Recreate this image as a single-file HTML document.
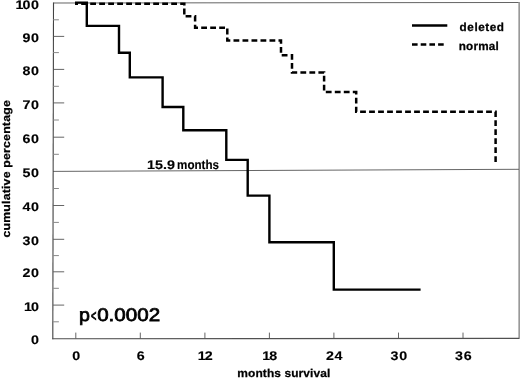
<!DOCTYPE html>
<html><head><meta charset="utf-8"><title>Survival</title>
<style>
html,body{margin:0;padding:0;background:#fff;}
body{width:520px;height:378px;overflow:hidden;}
svg{display:block;filter:grayscale(1) blur(0.35px);}
text{font-family:"Liberation Sans",Arial,Helvetica,sans-serif;font-weight:bold;font-size:12px;fill:#000;stroke:#000;stroke-width:0.25px;text-rendering:geometricPrecision;}
.num text{letter-spacing:0.6px;font-weight:bold;stroke-width:0.15px;font-size:12.5px;}
</style></head>
<body>
<svg width="520" height="378" viewBox="0 0 520 378">
<rect x="0" y="0" width="520" height="378" fill="#fff"/>
<line x1="53.4" y1="3.0" x2="519" y2="2.5" stroke="#484848" stroke-width="0.85"/>
<line x1="519.2" y1="2" x2="519.2" y2="339" stroke="#999" stroke-width="1.7"/>
<line x1="53" y1="171.4" x2="519" y2="169.3" stroke="#555" stroke-width="0.9"/>
<line x1="53.5" y1="2.5" x2="52.8" y2="339.3" stroke="#444" stroke-width="1.1"/>
<line x1="52.3" y1="338.8" x2="519" y2="338.4" stroke="#505050" stroke-width="1.1"/>
<g stroke="#555" stroke-width="0.9">
<line x1="53.1" y1="305.1" x2="64.2" y2="305.1"/>
<line x1="53.1" y1="271.8" x2="64.2" y2="271.8"/>
<line x1="53.1" y1="239.3" x2="64.2" y2="239.3"/>
<line x1="53.1" y1="205.5" x2="64.2" y2="205.5"/>
<line x1="53.1" y1="137.2" x2="64.2" y2="137.2"/>
<line x1="53.1" y1="102.9" x2="64.2" y2="102.9"/>
<line x1="53.1" y1="69.4" x2="64.2" y2="69.4"/>
<line x1="53.1" y1="36.4" x2="64.2" y2="36.4"/>
</g><g stroke="#888" stroke-width="1">
<line x1="53.1" y1="321.8" x2="58.9" y2="321.8"/>
<line x1="53.1" y1="288.3" x2="58.9" y2="288.3"/>
<line x1="53.1" y1="255.6" x2="58.9" y2="255.6"/>
<line x1="53.1" y1="222.4" x2="58.9" y2="222.4"/>
<line x1="53.1" y1="188.5" x2="58.9" y2="188.5"/>
<line x1="53.1" y1="154.3" x2="58.9" y2="154.3"/>
<line x1="53.1" y1="120.0" x2="58.9" y2="120.0"/>
<line x1="53.1" y1="86.3" x2="58.9" y2="86.3"/>
<line x1="53.1" y1="52.6" x2="58.9" y2="52.6"/>
<line x1="53.1" y1="19.8" x2="58.9" y2="19.8"/>
</g><g stroke="#555" stroke-width="0.9">
<line x1="75.8" y1="338.6" x2="75.8" y2="332.6"/>
<line x1="140.3" y1="338.6" x2="140.3" y2="332.6"/>
<line x1="204.9" y1="338.6" x2="204.9" y2="332.6"/>
<line x1="269.4" y1="338.6" x2="269.4" y2="332.6"/>
<line x1="333.9" y1="338.6" x2="333.9" y2="332.6"/>
<line x1="398.5" y1="338.6" x2="398.5" y2="332.6"/>
<line x1="463.0" y1="338.6" x2="463.0" y2="332.6"/>
</g>
<g class="num" text-anchor="end">
<text transform="translate(39.6,344.2) scale(1.14,1)">0</text>
<text transform="translate(39.6,310.7) scale(1.14,1)">1<tspan dx="-1.5">0</tspan></text>
<text transform="translate(39.6,277.4) scale(1.14,1)">20</text>
<text transform="translate(39.6,244.9) scale(1.14,1)">30</text>
<text transform="translate(39.6,211.1) scale(1.14,1)">40</text>
<text transform="translate(39.6,176.8) scale(1.14,1)">50</text>
<text transform="translate(39.6,142.8) scale(1.14,1)">60</text>
<text transform="translate(39.6,108.5) scale(1.14,1)">70</text>
<text transform="translate(39.6,75.0) scale(1.14,1)">80</text>
<text transform="translate(39.6,42.0) scale(1.14,1)">90</text>
<text transform="translate(39.6,8.5) scale(1.14,1)">1<tspan dx="-1.5">00</tspan></text>
</g><g class="num" text-anchor="middle">
<text transform="translate(76.5,360.2) scale(1.14,1)">0</text>
<text transform="translate(141.0,360.2) scale(1.14,1)">6</text>
<text transform="translate(205.6,360.2) scale(1.14,1)">1<tspan dx="-1.5">2</tspan></text>
<text transform="translate(270.1,360.2) scale(1.14,1)">1<tspan dx="-1.5">8</tspan></text>
<text transform="translate(334.6,360.2) scale(1.14,1)">24</text>
<text transform="translate(399.2,360.2) scale(1.14,1)">30</text>
<text transform="translate(463.7,360.2) scale(1.14,1)">36</text>
</g>
<text transform="translate(237.3,376.7) scale(1.05,1)" style="font-size:11.4px" textLength="88.6" lengthAdjust="spacing">months survival</text>
<text transform="translate(9.6,237.6) rotate(-90) scale(1.1,1)" style="font-size:11.2px" textLength="124.9" lengthAdjust="spacing">cumulative percentage</text>
<text x="147.0" y="168.8" style="font-size:12.5px;stroke-width:0.15px;"><tspan textLength="27.9" lengthAdjust="spacingAndGlyphs">15.9</tspan> <tspan x="177.1" textLength="41.9" lengthAdjust="spacingAndGlyphs" style="font-size:12.7px">months</tspan></text>
<line x1="412" y1="25.5" x2="447.3" y2="25.5" stroke="#000" stroke-width="2.5"/>
<line x1="412" y1="44.6" x2="444" y2="44.6" stroke="#000" stroke-width="2.5" stroke-dasharray="5.6 3.1"/>
<text x="459.6" y="30.7" style="font-size:11.7px" textLength="44.4" lengthAdjust="spacing">deleted</text>
<text x="458.8" y="49.5" style="font-size:11.7px" textLength="39.9" lengthAdjust="spacing">normal</text>
<text x="78.9" y="321.4" style="font-size:18.3px;font-weight:normal;stroke-width:0.75px;"><tspan textLength="10.9" lengthAdjust="spacingAndGlyphs">p</tspan><tspan dx="1.3" dy="-0.8" textLength="5.4" lengthAdjust="spacingAndGlyphs" style="font-size:15.5px;stroke-width:0.8px">&lt;</tspan><tspan dx="0.7" dy="0.8" textLength="62.9" lengthAdjust="spacingAndGlyphs">0.0002</tspan></text>
<path d="M75,2.6 H86.8 V25.9 H119 V52.8 H129.8 V77.4 H162.6 V107 H183.3 V130.3 H226.3 V159.9 H247.7 V195.6 H269.4 V242.3 H333.8 V289.6 H420.6" fill="none" stroke="#000" stroke-width="2.4" stroke-linejoin="miter"/>
<path d="M75,3.7 H184.3 V16.3 H195.1 V27.7 H227.3 V40.4 H281 V55.2 H292 V72.5 H324.1 V92.1 H356.2 V111.8 H495.6 V164.2" fill="none" stroke="#000" stroke-width="2.5" stroke-dasharray="5.8 3.2" stroke-dashoffset="2.8" stroke-linejoin="miter"/>
</svg>
</body></html>
